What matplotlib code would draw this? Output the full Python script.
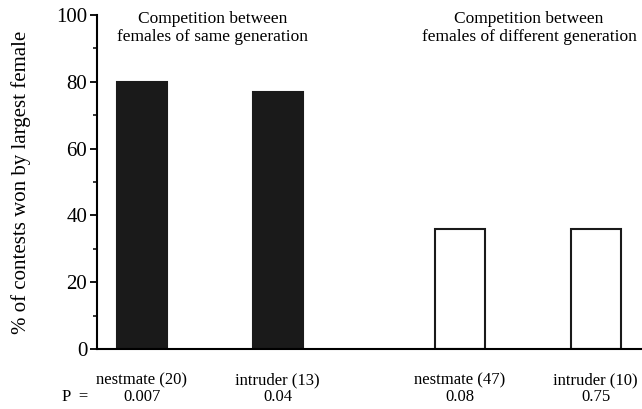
import numpy as np
import matplotlib
matplotlib.use("Agg")
import matplotlib.pyplot as plt

# data
categories = ["nestmate (20)", "intruder (13)", "nestmate (47)", "intruder (10)"]
won_pct = [80, 77, 36, 36]
p_values = ["0.007", "0.04", "0.08", "0.75"]
same_generation = [True, True, False, False]
group_titles = ["Competition between\nfemales of same generation",
                "Competition between\nfemales of different generation"]

plt.rcParams['font.family'] = ['Liberation Serif', 'DejaVu Serif']

fig = plt.figure(figsize=(6.42, 4.09), dpi=100)
ax = fig.add_axes([0.151, 0.1467, 0.849, 0.8166])

x = np.array([0, 1, 2.34, 3.34])
colors = ['#1a1a1a' if s else 'white' for s in same_generation]
ax.bar(x, won_pct, width=0.37, color=colors, edgecolor='#1a1a1a', linewidth=1.5)

ax.set_xlim(-0.33, 3.68)
ax.set_ylim(0, 100)
ax.set_yticks(range(0, 101, 20))
ax.set_yticks(range(10, 100, 20), minor=True)
ax.tick_params(axis='y', which='major', length=5, width=1.3, labelsize=15, pad=2)
ax.tick_params(axis='y', which='minor', length=3, width=1.1)
ax.set_xticks([])
for side in ['top', 'right']:
    ax.spines[side].set_visible(False)
ax.spines['left'].set_linewidth(1.5)
ax.spines['bottom'].set_linewidth(1.5)

ax.set_ylabel("% of contests won by largest female", fontsize=15, labelpad=18)

tr = ax.get_xaxis_transform()
for xi, lab, p in zip(x, categories, p_values):
    ax.text(xi, -0.093, lab, transform=tr, ha='center', va='center', fontsize=12)
    ax.text(xi, -0.144, p, transform=tr, ha='center', va='center', fontsize=12)
ax.text(-0.59, -0.144, "P  =", transform=tr, ha='left', va='center', fontsize=12)

ax.text(0.52, 0.961, group_titles[0], transform=tr, ha='center', va='center',
        fontsize=12.5, linespacing=1.15)
ax.text(2.85, 0.961, group_titles[1], transform=tr, ha='center', va='center',
        fontsize=12.5, linespacing=1.15)

fig.savefig("out.png", dpi=100)
